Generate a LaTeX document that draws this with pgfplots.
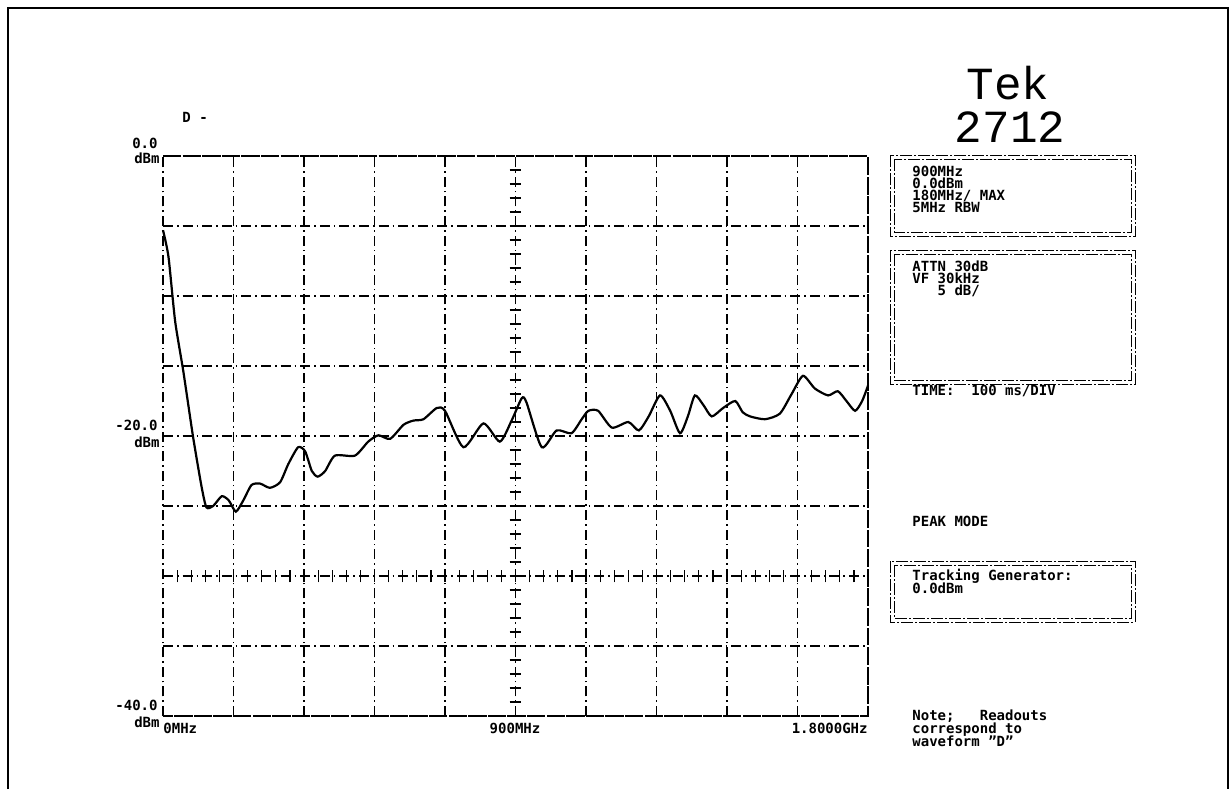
\documentclass[border=0pt]{standalone}
\usepackage{pgfplots}
\pgfplotsset{compat=1.18}
\usepackage{fontspec}
\setmainfont{DejaVu Sans Mono}
\newfontfamily\tekfont{Liberation Mono}
\newcommand\lbl{\bfseries\fontsize{7}{8}\selectfont}

\begin{document}
\begin{tikzpicture}[x=0.5pt,y=-0.5pt]
\path[use as bounding box] (0,0) rectangle (1231,789);
\tikzset{
  grat/.style={black, line width=0.55pt, dash pattern=on 5pt off 2pt on 0.8pt off 2pt},
  boxst/.style={black, line width=0.5pt, dash pattern=on 6pt off 1pt on 1pt off 1pt},
  txt/.style={font=\lbl, inner sep=0pt, anchor=base west}
}
% frame round the page
\draw[black, line width=0.6pt] (8,789) -- (8,8) -- (1228,8) -- (1228,789);

\begin{axis}[
  at={(81.5pt,-358pt)}, anchor=south west,
  scale only axis, width=352.5pt, height=280pt,
  xmin=0, xmax=1800, ymin=-40, ymax=0,
  xtick={0,180,...,1800}, ytick={-40,-35,...,0},
  xticklabels={}, yticklabels={},
  major tick length=0pt,
  grid=major, major grid style={grat},
  axis line style={grat},
  clip=false
]
% graticule minor marks on the centre lines
\pgfplotsinvokeforeach{-39,-38,...,-1}{
  \draw[black, line width=0.6pt] (axis cs:885,#1) -- (axis cs:915,#1);
}
\pgfplotsinvokeforeach{36,72,...,1764}{
  \draw[black, line width=0.6pt] (axis cs:#1,-30.45) -- (axis cs:#1,-29.55);
}

\addplot[black, line width=1.1pt, smooth, tension=0.4] coordinates {
  (0,-5.3) (14,-7.2) (31,-11.8) (52,-15.4) (77,-20.1) (99,-23.7) (111,-25.1)
  (128,-25.0) (150,-24.3) (168,-24.6) (186,-25.4) (205,-24.6) (226,-23.5)
  (248,-23.4) (273,-23.7) (299,-23.3) (320,-22.0) (345,-20.8) (363,-21.1)
  (380,-22.5) (395,-22.9) (414,-22.5) (439,-21.4) (490,-21.4) (524,-20.4)
  (550,-19.95) (580,-20.2) (614,-19.2) (639,-18.9) (665,-18.8) (699,-18.0)
  (720,-18.2) (767,-20.8) (818,-19.1) (860,-20.4) (890,-18.9) (916,-17.3)
  (928,-17.6) (967,-20.8) (1005,-19.6) (1043,-19.8) (1069,-18.8) (1086,-18.2)
  (1111,-18.2) (1146,-19.4) (1188,-19.0) (1215,-19.6) (1240,-18.6) (1269,-17.1)
  (1295,-18.2) (1320,-19.8) (1340,-18.6) (1358,-17.1) (1380,-17.8) (1401,-18.6)
  (1430,-18.0) (1461,-17.5) (1480,-18.3) (1499,-18.6) (1537,-18.8) (1575,-18.4)
  (1605,-17.0) (1634,-15.7) (1664,-16.6) (1698,-17.1) (1723,-16.8) (1745,-17.5)
  (1767,-18.2) (1785,-17.5) (1800,-16.4)
};
\end{axis}

% level readouts
\node[txt, anchor=base east] at (158,148) {0.0};
\node[txt, anchor=base east] at (160,163) {dBm};
\node[txt, anchor=base east] at (158,430) {-20.0};
\node[txt, anchor=base east] at (160,447) {dBm};
\node[txt, anchor=base east] at (158,710) {-40.0};
\node[txt, anchor=base east] at (160,727) {dBm};
% frequency readouts
\node[txt] at (163,733) {0MHz};
\node[txt, anchor=base] at (515,733) {900MHz};
\node[txt, anchor=base east] at (868,733) {1.8000GHz};
\node[txt] at (182,122) {D -};

% title
\node[font=\tekfont\fontsize{23}{23}\selectfont, anchor=base, inner sep=0pt] at (1008,99) {Tek};
\node[font=\tekfont\fontsize{23}{23}\selectfont, anchor=base, inner sep=0pt] at (1010,142) {2712};

% readout boxes
\draw[boxst] (890,155) rectangle (1135,236);
\draw[boxst] (894,159) rectangle (1131,232);
\node[txt] at (912,176) {900MHz};
\node[txt] at (912,188) {0.0dBm};
\node[txt] at (912,200) {180MHz/ MAX};
\node[txt] at (912,212) {5MHz RBW};
\draw[boxst] (890,250) rectangle (1135,384);
\draw[boxst] (894,254) rectangle (1131,380);
\node[txt] at (912,271) {ATTN 30dB};
\node[txt] at (912,283) {VF 30kHz};
\node[txt] at (912,295) {\ \ \ 5 dB/};
\node[txt] at (912,395) {TIME:\ \ 100 ms/DIV};
\node[txt] at (912,526) {PEAK MODE};
\draw[boxst] (890,561) rectangle (1135,622);
\draw[boxst] (894,565) rectangle (1131,618);
\node[txt] at (912,580) {Tracking Generator:};
\node[txt] at (912,593) {0.0dBm};
\node[txt] at (912,720) {Note;\ \ \ Readouts};
\node[txt] at (912,733) {correspond to};
\node[txt] at (912,746) {waveform "D"};
\end{tikzpicture}
\end{document}
